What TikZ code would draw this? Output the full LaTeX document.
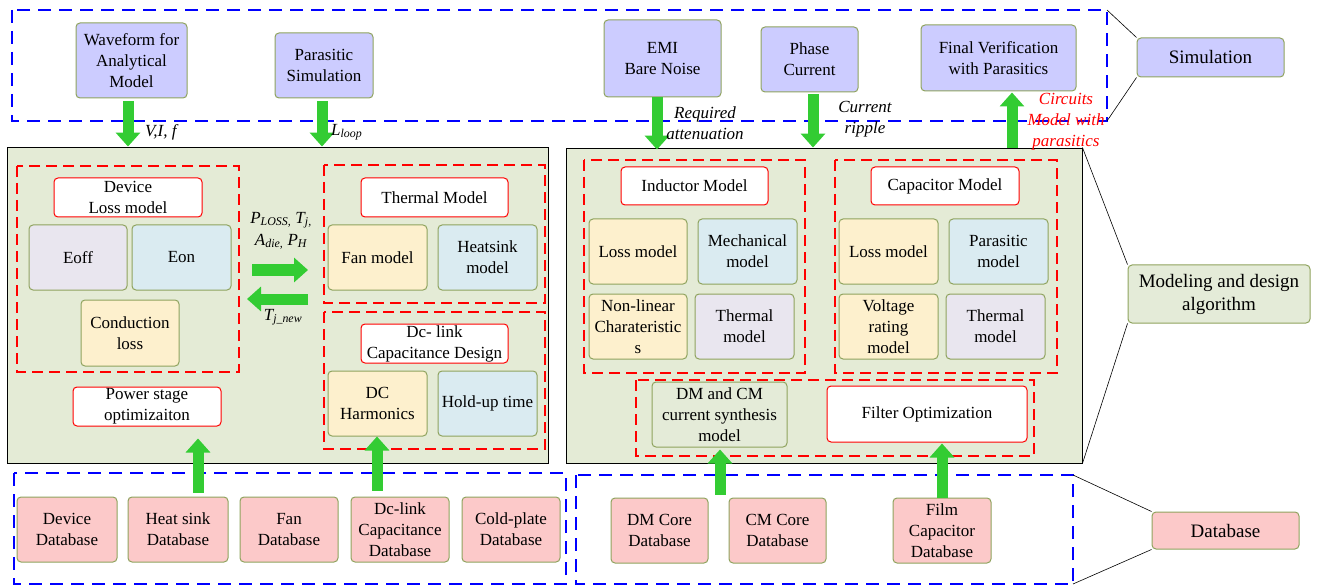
\documentclass[tikz,border=0pt]{standalone}
\usepackage{fontspec}
\setmainfont{Liberation Serif}
\usetikzlibrary{arrows.meta}
\definecolor{simfill}{HTML}{CCCCFF}
\definecolor{bord}{HTML}{8FA35E}
\definecolor{mainfill}{HTML}{E4EBD6}
\definecolor{dbfill}{HTML}{FCC9C9}
\definecolor{yel}{HTML}{FDF0CD}
\definecolor{blu}{HTML}{DAEBF1}
\definecolor{lav}{HTML}{E9E6EF}
\definecolor{garr}{HTML}{33CC33}
\definecolor{modfill}{HTML}{E4EBD8}
\newcommand\mkbox[7]{\node[#1, minimum width={#5-#3}, minimum height={#6-#4}] (#2) at ({(#3+#5)/2},{(#4+#6)/2}) {#7};}
\tikzset{
  x=1pt, y=-1pt,
  boxbase/.style={rounded corners=4pt, line width=1pt, align=center, inner sep=1pt, font=\fontsize{17}{21}\selectfont},
  simbox/.style={boxbase, draw=bord, fill=simfill},
  modbox/.style={boxbase, draw=bord, fill=modfill, font=\fontsize{19}{23}\selectfont},
  dbbox/.style={boxbase, draw=bord, fill=dbfill},
  whitebox/.style={boxbase, draw=red, fill=white},
  yelbox/.style={boxbase, draw=bord, fill=yel},
  blubox/.style={boxbase, draw=bord, fill=blu},
  lavbox/.style={boxbase, draw=bord, fill=lav},
  greenbox/.style={boxbase, draw=bord, fill=modfill},
  mainbox/.style={draw=black, line width=0.9pt, fill=mainfill, inner sep=0pt},
  reddash/.style={draw=red, line width=2.2pt, dash pattern=on 11pt off 6pt},
  bluedash/.style={draw=blue, line width=2.4pt, dash pattern=on 13pt off 8pt},
  garrow/.style={draw=garr, line width=11pt, -{Triangle[width=24pt,length=14pt]}},
  legline/.style={draw=black, line width=0.6pt},
  lab/.style={font=\fontsize{17}{21}\selectfont\itshape, inner sep=0pt, align=center},
}
\begin{document}
\begin{tikzpicture}
\useasboundingbox (0,0) rectangle (1319,585);

% main modeling boxes
\mkbox{mainbox}{lbox}{7}{147}{548}{463}{}
\mkbox{mainbox}{rbox}{566}{148}{1082}{463}{}

% simulation region
\draw[bluedash] (12,10) rectangle (1107,121);
\mkbox{simbox}{wave}{76}{23}{187}{98}{Waveform for\\Analytical\\Model}
\mkbox{simbox}{para}{275}{33}{373}{98}{Parasitic\\Simulation}
\mkbox{simbox}{emi}{604}{20}{721}{97}{EMI\\Bare Noise}
\mkbox{simbox}{phase}{761}{27}{858}{92}{Phase\\Current}
\mkbox{simbox}{final}{921}{25}{1076}{91}{Final Verification\\with Parasitics}

% legend
\mkbox{simbox,font=\fontsize{19}{23}\selectfont}{simlab}{1137}{38}{1284}{77}{Simulation}
\mkbox{modbox}{modlab}{1128}{265}{1310}{323}{Modeling and design\\algorithm}
\mkbox{dbbox,font=\fontsize{19}{23}\selectfont}{dblab}{1152}{512}{1299}{549}{Database}

% left inner
\draw[reddash] (17,166) rectangle (239,372);
\mkbox{whitebox}{dlm}{54}{178}{202}{217}{Device\\Loss model}
\mkbox{lavbox}{eoff}{29}{225}{127}{290}{Eoff}
\mkbox{blubox}{eon}{132}{225}{231}{290}{Eon}
\mkbox{yelbox}{cond}{81}{300}{179}{366}{Conduction\\loss}
\mkbox{whitebox}{pso}{73}{387}{221}{426}{Power stage\\optimizaiton}
\draw[reddash] (324,165) rectangle (545,303);
\mkbox{whitebox}{thm}{361}{178}{508}{217}{Thermal Model}
\mkbox{yelbox}{fan}{328}{225}{427}{290}{Fan model}
\mkbox{blubox}{heat}{438}{225}{537}{290}{Heatsink\\model}
\draw[reddash] (324,312) rectangle (545,449);
\mkbox{whitebox}{dcl}{361}{324}{508}{363}{Dc- link\\Capacitance Design}
\mkbox{yelbox}{dch}{328}{371}{427}{436}{DC\\Harmonics}
\mkbox{blubox}{hold}{438}{371}{537}{436}{Hold-up time}

% right inner
\draw[reddash] (584,160) rectangle (805,373);
\mkbox{whitebox}{indm}{621}{167}{768}{205}{Inductor Model}
\mkbox{yelbox}{iloss}{589}{219}{687}{284}{Loss model}
\mkbox{blubox}{imech}{698}{219}{797}{284}{Mechanical\\model}
\mkbox{yelbox}{inl}{589}{294}{687}{359}{Non-linear\\Charateristic\\s}
\mkbox{lavbox}{ith}{695}{294}{794}{359}{Thermal\\model}
\draw[reddash] (835,160) rectangle (1057,373);
\mkbox{whitebox}{capm}{871}{167}{1019}{205}{Capacitor Model}
\mkbox{yelbox}{closs}{839}{219}{938}{284}{Loss model}
\mkbox{blubox}{cpar}{949}{219}{1048}{284}{Parasitic\\model}
\mkbox{yelbox}{cvolt}{839}{294}{938}{359}{Voltage\\rating\\model}
\mkbox{lavbox}{cth}{946}{294}{1045}{359}{Thermal\\model}
\draw[reddash] (636,380) rectangle (1034,456);
\mkbox{greenbox}{dmcm}{652}{382}{787}{447}{DM and CM\\current synthesis\\model}
\mkbox{whitebox}{filt}{827}{386}{1027}{442}{Filter Optimization}

% database region
\draw[bluedash] (14,473) rectangle (566,584);
\draw[bluedash] (576,475) rectangle (1073,584);
\mkbox{dbbox}{ddev}{17}{497}{117}{562}{Device\\Database}
\mkbox{dbbox}{dheat}{128}{497}{228}{562}{Heat sink\\Database}
\mkbox{dbbox}{dfan}{240}{497}{338}{562}{Fan\\Database}
\mkbox{dbbox}{ddc}{351}{497}{449}{562}{Dc-link\\Capacitance\\Database}
\mkbox{dbbox}{dcold}{462}{497}{560}{562}{Cold-plate\\Database}
\mkbox{dbbox}{ddm}{611}{498}{708}{563}{DM Core\\Database}
\mkbox{dbbox}{dcm}{729}{498}{826}{563}{CM Core\\Database}
\mkbox{dbbox}{dfilm}{893}{498}{991}{563}{Film\\Capacitor\\Database}

% arrow x positions
\coordinate (xA) at (128,0);
\coordinate (xB) at (322,0);
\coordinate (xC) at (657,0);
\coordinate (xD) at (813,0);
\coordinate (xE) at (1012,0);
\coordinate (xF) at (198,0);
\coordinate (xG) at (377,0);
\coordinate (xH) at (720,0);
\coordinate (xI) at (942,0);
\coordinate (r1) at (252,270);
\coordinate (r2) at (308,270);
\coordinate (l1) at (308,299);
\coordinate (l2) at (247,299);

% green arrows
\draw[garrow, shorten <=3pt] (wave.south -| xA) -- (lbox.north -| xA);
\draw[garrow, shorten <=3pt] (para.south -| xB) -- (lbox.north -| xB);
\draw[garrow] (emi.south -| xC) -- ([yshift=-2pt]rbox.north -| xC);
\draw[garrow, shorten <=2pt] (phase.south -| xD) -- (rbox.north -| xD);
\draw[garrow, shorten >=1pt] (rbox.north -| xE) -- (final.south -| xE);
\draw[garrow, shorten <=4pt, shorten >=12pt] (dheat.north -| xF) -- (pso.south -| xF);
\draw[garrow, shorten <=6pt] (ddc.north -| xG) -- (dch.south -| xG);
\draw[garrow, shorten <=3pt, shorten >=2pt] (ddm.north -| xH) -- (dmcm.south -| xH);
\draw[garrow, shorten >=1pt] (dfilm.north -| xI) -- (filt.south -| xI);
\draw[garrow] (r1) -- (r2);
\draw[garrow] (l1) -- (l2);

% labels
\node[lab, anchor=west] (lvif) at (145,132) {V,I, f};
\node[lab, anchor=west] (lloop) at (331,132) {L\textsubscript{loop}};
\node[lab] (lreq) at (705,123) {Required\\attenuation};
\node[lab] (lcur) at (865,119) {Current\\ripple};
\node[lab, text=red] (lcirc) at (1066,122) {Circuits\\Model with\\parasitics};
\node[lab, font=\fontsize{17}{22}\selectfont\itshape] (lploss) at (281,231) {P\textsubscript{LOSS,} T\textsubscript{j,}\\A\textsubscript{die,} P\textsubscript{H}};
\node[lab] (ltj) at (283,317) {T\textsubscript{j\_new}};

% legend connectors
\draw[legline] (1107,10) -- (simlab.north west);
\draw[legline] (simlab.south west) -- (1107,121);
\draw[legline] (rbox.north east) -- (modlab.north west);
\draw[legline] (modlab.south west) -- (rbox.south east);
\draw[legline] (1073,475) -- (dblab.north west);
\draw[legline] (dblab.south west) -- (1073,584);
\end{tikzpicture}
\end{document}
